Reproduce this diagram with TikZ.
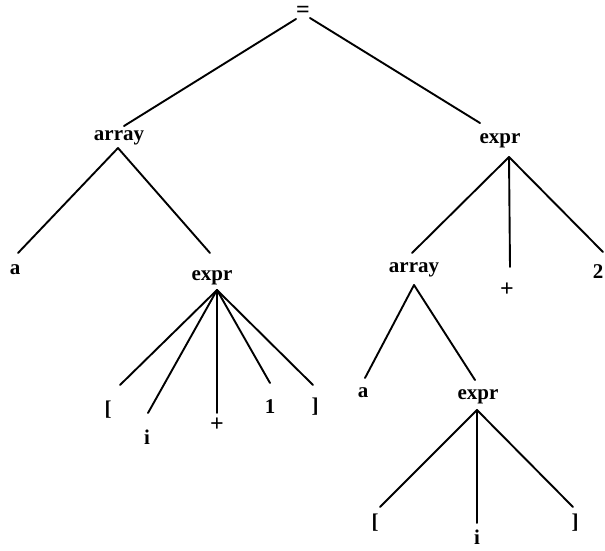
\documentclass[tikz,border=0pt]{standalone}
\usepackage{fontspec}
\setmainfont{Liberation Serif}
\usetikzlibrary{calc}
\begin{document}
\begin{tikzpicture}[x=1pt,y=-1pt,
  lbl/.style={inner sep=0pt,font=\fontsize{21}{21}\selectfont\bfseries},
  sym/.style={inner sep=0pt,font=\fontsize{24}{24}\selectfont\bfseries},
  edge/.style={line width=1.9pt,line cap=round}]
\useasboundingbox (0,0) rectangle (605,550);
% nodes
\node[sym] (eq) at (303,12) {=};
\node[lbl] (arr1) at (119,138) {array};
\node[lbl] (expr1) at (500,141) {expr};
\node[lbl] (a1) at (15,270) {a};
\node[lbl] (expr2) at (212,278) {expr};
\node[lbl] (lb1) at (108,410) {[};
\node[lbl] (i1) at (147,437) {i};
\node[sym] (plus1) at (217,425) {+};
\node[lbl] (one) at (270,407) {1};
\node[lbl] (rb1) at (315,407) {]};
\node[lbl] (arr2) at (414,270) {array};
\node[sym] (plus2) at (507,290) {+};
\node[lbl] (two) at (598,272) {2};
\node[lbl] (a2) at (363,393) {a};
\node[lbl] (expr3) at (478,397) {expr};
\node[lbl] (lb2) at (375,523) {[};
\node[lbl] (i2) at (477,537) {i};
\node[lbl] (rb2) at (575,523) {]};
% edges
\draw[edge] ($(eq)+(-7,7)$) -- ($(arr1)+(5,-12)$);
\draw[edge] ($(eq)+(7,6)$) -- ($(expr1)+(-20,-18)$);
\draw[edge] ($(arr1)+(-1,10)$) -- ($(a1)+(3,-17)$);
\draw[edge] ($(arr1)+(-1,10)$) -- ($(expr2)+(-2,-25)$);
\draw[edge] ($(expr2)+(5,12)$) -- ($(lb1)+(12,-25)$);
\draw[edge] ($(expr2)+(5,12)$) -- ($(i1)+(1,-24)$);
\draw[edge] ($(expr2)+(5,12)$) -- ($(plus1)+(0,-12)$);
\draw[edge] ($(expr2)+(5,12)$) -- ($(one)+(0,-24)$);
\draw[edge] ($(expr2)+(5,12)$) -- ($(rb1)+(-2,-22)$);
\draw[edge] ($(expr1)+(9,16)$) -- ($(arr2)+(-2,-17)$);
\draw[edge] ($(expr1)+(9,16)$) -- ($(plus2)+(3,-23)$);
\draw[edge] ($(expr1)+(9,16)$) -- ($(two)+(5,-20)$);
\draw[edge] ($(arr2)+(0,15)$) -- ($(a2)+(2,-15)$);
\draw[edge] ($(arr2)+(0,15)$) -- ($(expr3)+(-3,-17)$);
\draw[edge] ($(expr3)+(-1,13)$) -- ($(lb2)+(5,-16)$);
\draw[edge] ($(expr3)+(-1,13)$) -- ($(i2)+(0,-14)$);
\draw[edge] ($(expr3)+(-1,13)$) -- ($(rb2)+(-2,-16)$);
\end{tikzpicture}
\end{document}
